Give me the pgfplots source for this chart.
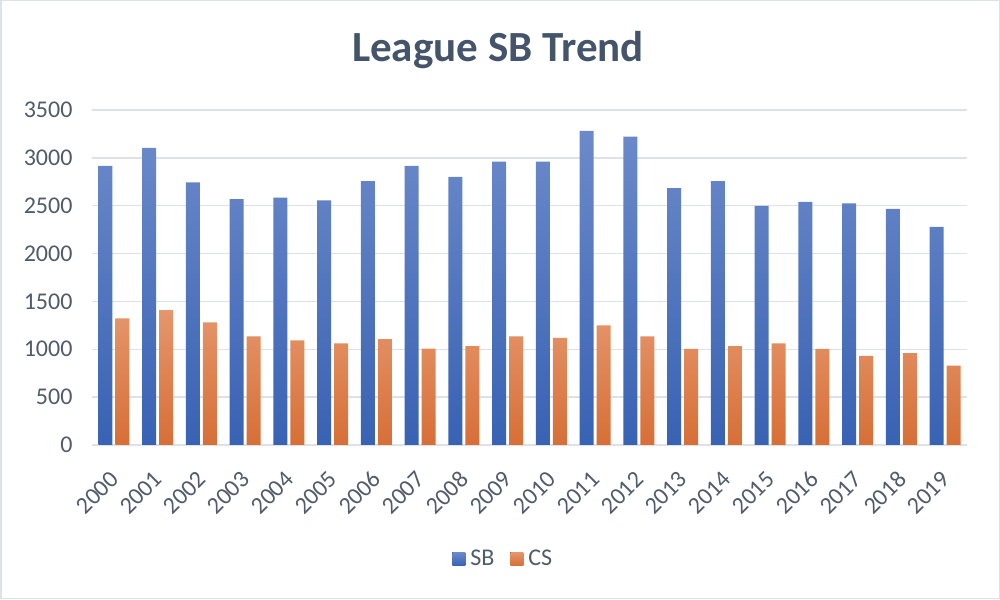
\documentclass[border=0pt]{standalone}
\usepackage{pgfplots}
\pgfplotsset{compat=1.18}
\usepackage{fontspec}
\setmainfont{Carlito}
\definecolor{txt}{HTML}{505B6B}
\definecolor{ttl}{HTML}{44546A}
\definecolor{gridc}{HTML}{DDE1E8}
\definecolor{bTop}{HTML}{6C8AC9}
\definecolor{bMid}{HTML}{4874C8}
\definecolor{bBot}{HTML}{3862B3}
\definecolor{oTop}{HTML}{E5966C}
\definecolor{oMid}{HTML}{E9823F}
\definecolor{oBot}{HTML}{D76F36}
\begin{document}
\begin{tikzpicture}
\useasboundingbox (0,0) rectangle (1000pt,599pt);
\draw[gridc, line width=1.5pt] (0.75pt,0.75pt) rectangle (999.25pt,598.25pt);
\node[text=ttl, font=\fontsize{43}{50}\selectfont\bfseries] at (498pt,549pt) {League SB Trend};
\begin{axis}[
  at={(92pt,154pt)}, anchor=south west,
  scale only axis, width=875pt, height=335pt,
  xmin=-0.5, xmax=19.5, ymin=0, ymax=3500,
  ytick={0,500,...,3500},
  xtick={0,...,19},
  xticklabels={2000,2001,2002,2003,2004,2005,2006,2007,2008,2009,2010,2011,2012,2013,2014,2015,2016,2017,2018,2019},
  axis line style={draw=none},
  major tick length=0pt,
  ymajorgrids, grid style={gridc, line width=1.5pt},
  tick label style={text=txt, font=\fontsize{24}{28}\selectfont},
  /pgf/number format/assume math mode=true,
  /pgf/number format/1000 sep={},
  yticklabel style={anchor=east, xshift=-16pt},
  xticklabel style={xshift=3pt, yshift=-28pt, rotate=45, anchor=east},
  legend style={at={(0.47,-0.34)}, anchor=center, draw=none, fill=none,
    legend columns=2, font=\fontsize{24}{28}\selectfont, text=txt,
    nodes={inner xsep=2pt},
    /tikz/every even column/.append style={column sep=14pt}},
  legend image code/.code={\fill[#1] (0pt,-6.5pt) rectangle (13pt,6.5pt); \path (0pt,0pt) -- (16pt,0pt);},
]
\addplot[ybar, bar width=0.32, bar shift=-0.195, draw=none, top color=bTop, middle color=bMid, bottom color=bBot]
 coordinates {(0,2915)(1,3103)(2,2744)(3,2570)(4,2584)(5,2556)(6,2758)(7,2915)(8,2800)(9,2960)
 (10,2960)(11,3281)(12,3221)(13,2685)(14,2758)(15,2497)(16,2539)(17,2525)(18,2466)(19,2278)};
\addlegendentry{SB}
\addplot[ybar, bar width=0.32, bar shift=0.195, draw=none, top color=oTop, middle color=oMid, bottom color=oBot]
 coordinates {(0,1323)(1,1410)(2,1282)(3,1135)(4,1094)(5,1062)(6,1107)(7,1006)(8,1034)(9,1135)
 (10,1118)(11,1250)(12,1135)(13,1003)(14,1034)(15,1062)(16,1003)(17,930)(18,961)(19,829)};
\addlegendentry{CS}
\end{axis}
\end{tikzpicture}
\end{document}
